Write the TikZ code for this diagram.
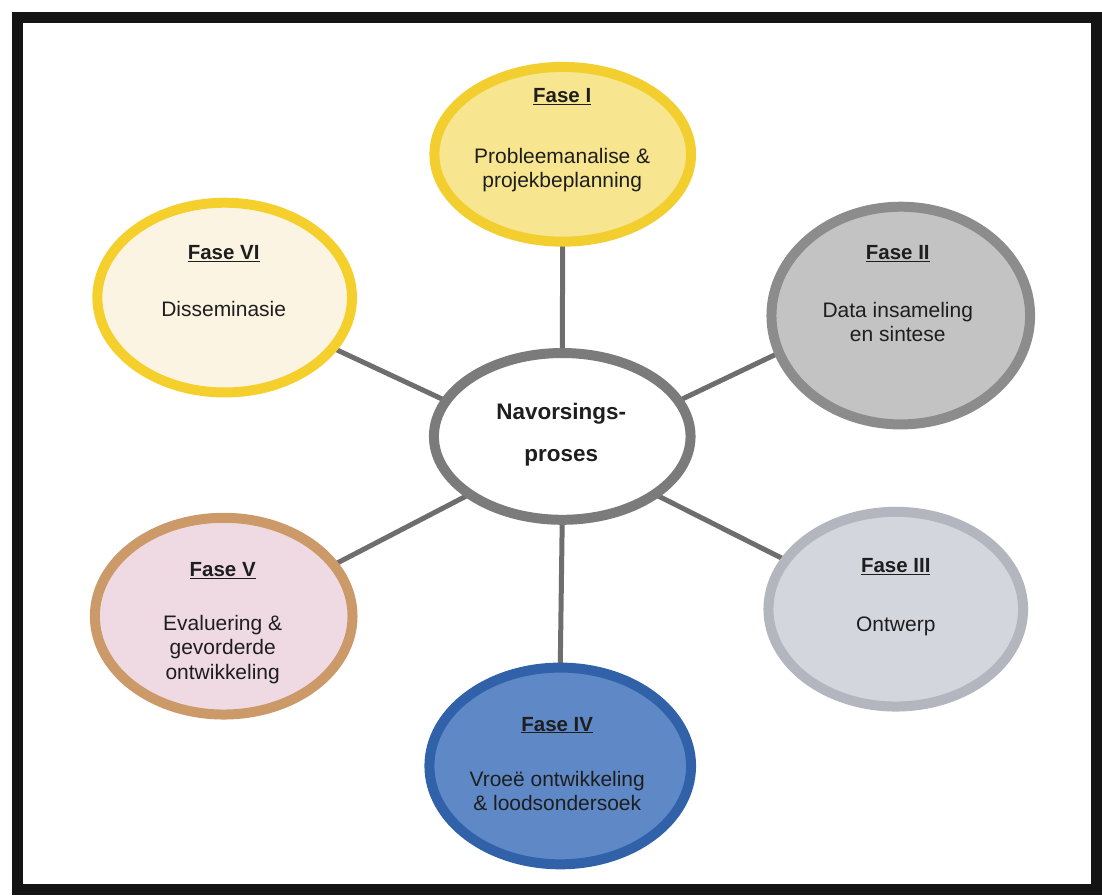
\documentclass[tikz,border=0pt]{standalone}
\usepackage{fontspec}
\setmainfont{Liberation Sans}
\usetikzlibrary{shapes.geometric,backgrounds}

\definecolor{txt}{HTML}{1E1E1E}
\definecolor{linkgray}{HTML}{6E6E6E}
\definecolor{oneFill}{HTML}{F7E68F}
\definecolor{oneEdge}{HTML}{F2CE2E}
\definecolor{twoFill}{HTML}{C3C3C3}
\definecolor{twoEdge}{HTML}{8C8C8C}
\definecolor{threeFill}{HTML}{D4D6DE}
\definecolor{threeEdge}{HTML}{B4B6BF}
\definecolor{fourFill}{HTML}{5F88C7}
\definecolor{fourEdge}{HTML}{3162A9}
\definecolor{fiveFill}{HTML}{EFDAE3}
\definecolor{fiveEdge}{HTML}{CC9A68}
\definecolor{sixFill}{HTML}{FBF4E3}
\definecolor{sixEdge}{HTML}{F5D02C}
\definecolor{hubEdge}{HTML}{7B7B7B}

\begin{document}
\begin{tikzpicture}[x=1pt,y=-1pt,
  phase/.style={ellipse, draw, line width=10pt, inner sep=0pt, outer sep=0pt},
  title/.style={font=\fontsize{20.5}{24}\selectfont\bfseries, text=txt, anchor=base, inner sep=0pt},
  % anchor=base of a multi-line node sits on its last line
  body/.style={font=\fontsize{21}{24.5}\selectfont, text=txt, align=center, anchor=base, inner sep=0pt},
  hubtext/.style={font=\fontsize{22.5}{42}\selectfont\bfseries, text=txt, align=center, anchor=base, inner sep=0pt},
  link/.style={draw=linkgray, line width=5pt}]

% outer frame
\draw[line width=11pt, draw=black!92] (18,18) rectangle (1098,891);

% the hub and the six phases
\node[phase, draw=hubEdge, fill=white, minimum width=257pt, minimum height=167pt] (c) at (563,437) {};
\node[phase, draw=oneEdge, fill=oneFill, minimum width=257pt, minimum height=175pt] (f1) at (563.5,154.5) {};
\node[phase, draw=twoEdge, fill=twoFill, minimum width=259pt, minimum height=218pt] (f2) at (902,316) {};
\node[phase, draw=threeEdge, fill=threeFill, minimum width=255pt, minimum height=195pt] (f3) at (897,610) {};
\node[phase, draw=fourEdge, fill=fourFill, minimum width=262pt, minimum height=197pt] (f4) at (561,767) {};
\node[phase, draw=fiveEdge, fill=fiveFill, minimum width=258pt, minimum height=197pt] (f5) at (224,617) {};
\node[phase, draw=sixEdge, fill=sixFill, minimum width=255pt, minimum height=190pt] (f6) at (225,298) {};

% texts
\node[hubtext] (ct) at (562,462) {Navorsings-\\proses};

\node[title] (t1) at (563,103) {\underline{Fase I}};
\node[body] (b1) at (563,188) {Probleemanalise \&\\projekbeplanning};

\node[title] (t2) at (899,260) {\underline{Fase II}};
\node[body] (b2) at (899,342) {Data insameling\\en sintese};

\node[title] (t3) at (897,573) {\underline{Fase III}};
\node[body] (b3) at (897,632) {Ontwerp};

\node[title] (t4) at (558,732) {\underline{Fase IV}};
\node[body] (b4) at (558,812) {Vroeë ontwikkeling\\\& loodsondersoek};

\node[title] (t5) at (223,577) {\underline{Fase V}};
\node[body] (b5) at (223,680) {Evaluering \&\\gevorderde\\ontwikkeling};

\node[title] (t6) at (224,260) {\underline{Fase VI}};
\node[body] (b6) at (224,317) {Disseminasie};

% connectors behind the ellipses
\begin{scope}[on background layer]
  \fill[white] (0,0) rectangle (1102,895);
  \draw[link] (c.90) -- (f1.270);
  \draw[link] (c.17) -- (f2.197);
  \draw[link] (c.-32) -- (f3.156);
  \draw[link] (c.270) -- (f4.90);
  \draw[link] (c.212) -- (f5.25);
  \draw[link] (c.163) -- (f6.335);
\end{scope}

\useasboundingbox (0,0) rectangle (1102,895);
\end{tikzpicture}
\end{document}
